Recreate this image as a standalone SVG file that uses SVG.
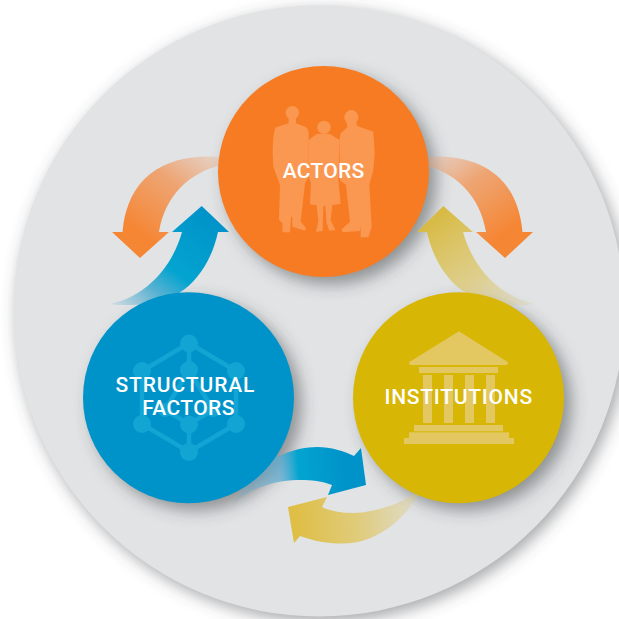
<svg xmlns="http://www.w3.org/2000/svg" width="619" height="619" viewBox="0 0 619 619">
<style>
.lbl{font-family:Roboto,"Liberation Sans",sans-serif;font-weight:500;font-size:21px;fill:#fff;text-anchor:middle}
.ppl{fill:#fa9852}
.tmp{fill:#e3c862}
.net{fill:#12a5d4}
.netl{stroke:#12a5d4;stroke-width:4.5;fill:none}
</style>
<defs>
<filter id="sh" x="-30%" y="-30%" width="160%" height="160%"><feGaussianBlur stdDeviation="8"/></filter>
<filter id="shb" x="-10%" y="-10%" width="120%" height="120%"><feGaussianBlur stdDeviation="8"/></filter>
<linearGradient id="gOL" gradientUnits="userSpaceOnUse" x1="215" y1="150" x2="150" y2="240"><stop offset="0" stop-color="#f0a070" stop-opacity=".2"/><stop offset=".45" stop-color="#f09a5f" stop-opacity=".85"/><stop offset="1" stop-color="#f58634"/></linearGradient>
<linearGradient id="gOR" gradientUnits="userSpaceOnUse" x1="430" y1="150" x2="495" y2="240"><stop offset="0" stop-color="#f0a070" stop-opacity=".2"/><stop offset=".45" stop-color="#f09a5f" stop-opacity=".85"/><stop offset="1" stop-color="#f58634"/></linearGradient>
<linearGradient id="gBU" gradientUnits="userSpaceOnUse" x1="125" y1="318" x2="205" y2="212"><stop offset="0" stop-color="#5aaccc" stop-opacity=".1"/><stop offset=".3" stop-color="#3fa9cf" stop-opacity=".85"/><stop offset=".5" stop-color="#03a4d0"/><stop offset="1" stop-color="#0093c9"/></linearGradient>
<linearGradient id="gYU" gradientUnits="userSpaceOnUse" x1="520" y1="318" x2="440" y2="212"><stop offset="0" stop-color="#dcc878" stop-opacity=".15"/><stop offset=".45" stop-color="#dcc565" stop-opacity=".7"/><stop offset="1" stop-color="#d8ba42"/></linearGradient>
<linearGradient id="gBB" gradientUnits="userSpaceOnUse" x1="235" y1="480" x2="345" y2="470"><stop offset="0" stop-color="#6aa8cc" stop-opacity=".25"/><stop offset=".42" stop-color="#5aaad0" stop-opacity=".75"/><stop offset=".58" stop-color="#03a4d0"/><stop offset="1" stop-color="#0093c9"/></linearGradient>
<linearGradient id="gYB" gradientUnits="userSpaceOnUse" x1="418" y1="510" x2="295" y2="520"><stop offset="0" stop-color="#dcc878" stop-opacity=".25"/><stop offset=".5" stop-color="#dfc767" stop-opacity=".85"/><stop offset="1" stop-color="#dfbe45"/></linearGradient>
</defs>
<g id="background">
<circle cx="323" cy="316" r="305.500" fill="#4a4d52" fill-opacity=".5" filter="url(#shb)"/>
<circle cx="319" cy="311" r="305.500" fill="#e1e3e5"/>
</g>
<g id="shadows" fill="#3c3f44" fill-opacity=".5" filter="url(#sh)">
<circle cx="331" cy="179" r="105.500"/>
<circle cx="196" cy="405" r="105.500"/>
<circle cx="466" cy="405" r="105.500"/>
</g>
<g id="connectors">
<path id="arrow-actors-structural" fill="url(#gOL)" d="M222,157 C170,153 128,172 122.500,232 L112,232 L140,258 L169,232 L159,232 C165,195 190,172 222,165 Z"/>
<path id="arrow-structural-actors" fill="url(#gBU)" d="M110,304 C145,297 172,268 182,232 L172,232 L201.700,206 L229,232 L218,232 C214,250 207,265 197,277 C185,292 165,305 130,305 C122,305 116,305 110,304 Z"/>
<path id="arrow-actors-institutions" fill="url(#gOR)" d="M423,157 C475,153 517,172 522.500,232 L533,232 L505,258 L476,232 L486,232 C480,195 455,172 423,165 Z"/>
<path id="arrow-institutions-actors" fill="url(#gYU)" d="M535,304 C500,297 473,268 463,232 L473,232 L443.300,206 L417,232 L427,232 C431,250 438,265 448,277 C460,292 480,305 515,305 C523,305 529,305 535,304 Z"/>
<path id="arrow-structural-institutions" fill="url(#gBB)" d="M234,503 L257,467 C272,458 295,447 317,447 C331,447 344,451 354,456 L361,448 L366,485 L328,495 L332,485 C322,481 312,480 300,480 C280,479 252,487 234,503 Z"/>
<path id="arrow-institutions-structural" fill="url(#gYB)" d="M418,495 C408,512 392,530 368,539 C350,546 325,545 300,536 L294,543 L288,507 L327,497 L322,507 C334,513 352,514 365,512 C385,509 403,502 415,493 Z"/>
</g>
<g id="actors">
<circle cx="323.500" cy="171.500" r="105.500" fill="#f77b22"/>
<g class="ppl" transform="translate(210 70) scale(.3333)">
<circle cx="247" cy="128" r="20"/>
<path d="M236,140 L236,160 L198,172 Q189,180 188,250 L190,290 L210,345 L207,450 L217,458 L218,487 L240,487 L243,440 L247,440 L247,470 L285,482 L288,474 L272,455 L285,340 L296,320 L296,190 Q294,172 285,170 L258,160 L258,140 Z"/>
<circle cx="342" cy="172" r="20"/>
<path d="M320,192 L296,210 L296,320 L303,340 L300,403 L320,406 L325,455 L318,485 L338,483 L340,408 L346,408 L350,460 L358,482 L376,480 L362,450 L367,405 L392,402 L385,330 L388,210 L360,192 Z"/>
<ellipse cx="424" cy="142" rx="21" ry="22"/>
<path d="M410,155 L412,172 L392,190 L388,210 L390,330 L408,345 L420,455 L395,478 L398,487 L450,483 L452,465 L452,502 L475,502 L485,470 L478,345 L490,300 L494,250 L490,185 L442,168 L438,155 Z"/>
</g>
<text class="lbl" x="323.600" y="177.700" style="letter-spacing:.3px">ACTORS</text>
</g>
<g id="structural-factors">
<circle cx="188.500" cy="397.700" r="105.500" fill="#0093c9"/>
<path class="netl" d="M189,343 L236,371 L236,424 L189,452 L142,424 L142,371 Z M189,343 V370 M189,424 V452 M189,370 L165,410 M189,370 L213,410 M165,410 L189,424 L213,410"/>
<g class="net">
<circle cx="189" cy="343.500" r="9"/><circle cx="142" cy="371" r="9"/><circle cx="189" cy="370" r="9"/><circle cx="236" cy="371" r="9"/><circle cx="142" cy="424" r="9"/><circle cx="189" cy="424.500" r="9"/><circle cx="236" cy="424" r="9"/><circle cx="189" cy="452" r="9"/><circle cx="165" cy="410" r="7"/><circle cx="213" cy="410" r="7"/>
</g>
<text class="lbl" x="185.400" y="392.300" style="letter-spacing:.9px">STRUCTURAL</text>
<text class="lbl" x="188.500" y="415.300" style="letter-spacing:.4px">FACTORS</text>
</g>
<g id="institutions">
<circle cx="458.500" cy="397.700" r="105.500" fill="#d8b605"/>
<g class="tmp" transform="translate(350 290) scale(.3333)">
<path d="M327,124 L473,216 Q476,225 468,225 L183,225 Q175,225 178,216 Z"/>
<rect x="207" y="231" width="237" height="18"/>
<rect x="219" y="255" width="27" height="144"/><rect x="282" y="255" width="27" height="144"/><rect x="345" y="255" width="27" height="144"/><rect x="408" y="255" width="27" height="144"/>
<rect x="192" y="405" width="267" height="19"/><rect x="177" y="427" width="300" height="17"/><rect x="162" y="444" width="330" height="18"/>
</g>
<text class="lbl" x="458.700" y="403.700" style="letter-spacing:.75px">INSTITUTIONS</text>
</g>
</svg>
